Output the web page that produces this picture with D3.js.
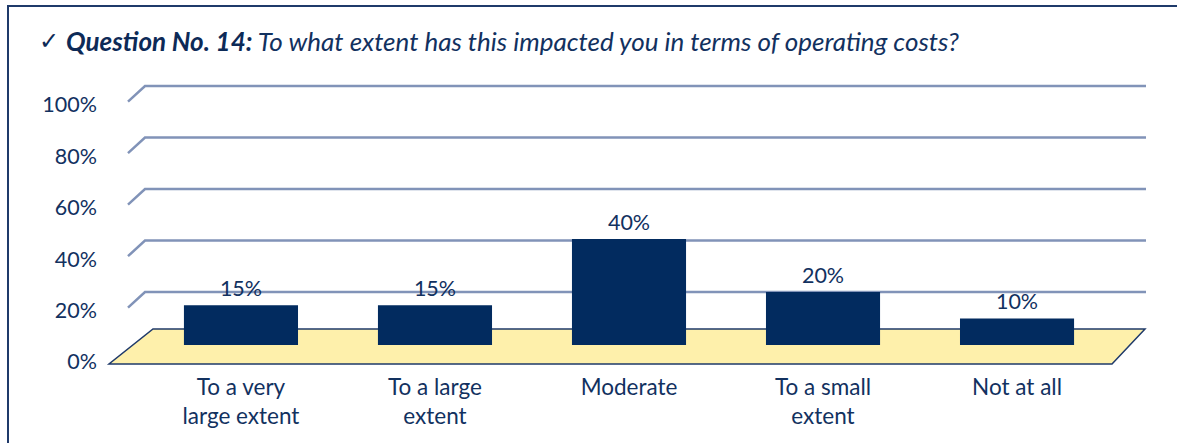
<!DOCTYPE html>
<html>
<head>
<meta charset="utf-8">
<script src="https://cdn.jsdelivr.net/npm/d3@7"></script>
<style>
  html, body { margin: 0; padding: 0; background: #ffffff; }
  svg { display: block; }
  text { font-family: Lato, "Open Sans", "Liberation Sans", sans-serif; fill: #12315f; }
  text.check { font-family: "DejaVu Sans", sans-serif; font-size: 24px; }
</style>
</head>
<body>
<svg id="chart" width="1177" height="443"></svg>
<script>
// ---- data ----
const categories = [["To a very", "large extent"], ["To a large", "extent"], ["Moderate"], ["To a small", "extent"], ["Not at all"]];
const categoryKeys = ["To a very large extent", "To a large extent", "Moderate", "To a small extent", "Not at all"];
const values = [0.15, 0.15, 0.40, 0.20, 0.10];
const valueLabels = ["15%", "15%", "40%", "20%", "10%"];
const yTicks = [0, 0.2, 0.4, 0.6, 0.8, 1.0];
const titleCheck = "\u2713";
const titleBold = "Question No. 14:";
const titleRest = " To what extent has this impacted you in terms of operating costs?";

// ---- layout ----
const W = 1177, H = 443;
const svg = d3.select("#chart");
const navy = "#022b5f";
const gridColor = "#8193b8";

// frame
svg.append("path")
  .attr("d", "M8,443 L8,6 L1177,6")
  .attr("fill", "none").attr("stroke", "#1f3a6a").attr("stroke-width", 2);

// title
svg.append("text").attr("class", "check").attr("x", 39).attr("y", 49)
  .style("fill", "#0d2a57").text(titleCheck);
const title = svg.append("text").attr("x", 66).attr("y", 51).attr("font-size", 26);
title.append("tspan").attr("font-weight", "bold").attr("font-style", "italic").style("fill", "#0d2a57").text(titleBold);
title.append("tspan").attr("font-style", "italic").style("fill", "#12315f").text(titleRest);

// scales
const x = d3.scaleBand().domain(categoryKeys).range([104, 1154]).padding(0.412);
const yBack = d3.scaleLinear().domain([0, 1]).range([343.5, 86]);   // back wall gridlines
const yLabel = d3.scaleLinear().domain([0, 1]).range([362, 105]);   // axis labels (front)
const yBar = d3.scaleLinear().domain([0, 1]).range([345, 80]);       // bars (mid depth)
const depthDx = 17, depthDy = 15.7;
const wallX0 = 145, wallX1 = 1146;

// gridlines
svg.append("g").selectAll("path")
  .data(yTicks.filter(d => d > 0))
  .join("path")
  .attr("d", d => `M${wallX0 - depthDx},${yBack(d) + depthDy} L${wallX0},${yBack(d)} L${wallX1},${yBack(d)}`)
  .attr("fill", "none").attr("stroke", gridColor).attr("stroke-width", 2.5);

// y axis labels
const yAxis = d3.axisLeft(yLabel).tickValues(yTicks).tickSize(0).tickPadding(0)
  .tickFormat(d3.format(".0%"));
const gy = svg.append("g").attr("transform", "translate(97,0)").call(yAxis);
gy.select(".domain").remove();
gy.selectAll("text").attr("font-size", 21.5).attr("font-family", null).style("fill", "#12315f");

// floor
svg.append("path")
  .attr("d", "M109,364 L1112,364 L1145,329 L153,329 Z")
  .attr("fill", "#fef0ab").attr("stroke", "#1f3a6a").attr("stroke-width", 1.5).attr("stroke-linejoin", "miter");

// bars
svg.append("g").selectAll("rect")
  .data(values)
  .join("rect")
  .attr("x", (d, i) => x(categoryKeys[i]))
  .attr("width", x.bandwidth())
  .attr("y", d => yBar(d))
  .attr("height", d => yBar(0) - yBar(d))
  .attr("fill", navy);

// value labels
svg.append("g").selectAll("text")
  .data(values)
  .join("text")
  .attr("x", (d, i) => x(categoryKeys[i]) + x.bandwidth() / 2)
  .attr("y", d => yBar(d) - 9.5)
  .attr("text-anchor", "middle")
  .attr("font-size", 21.5)
  .text((d, i) => valueLabels[i]);

// category labels
const cat = svg.append("g").selectAll("text")
  .data(categories)
  .join("text")
  .attr("text-anchor", "middle")
  .attr("font-size", 22.5)
  .attr("y", 395);
cat.each(function(lines, i) {
  const t = d3.select(this);
  const cx = x(categoryKeys[i]) + x.bandwidth() / 2;
  lines.forEach((ln, j) => {
    t.append("tspan").attr("x", cx).attr("y", 395 + j * 28.5).text(ln);
  });
});
</script>
</body>
</html>
